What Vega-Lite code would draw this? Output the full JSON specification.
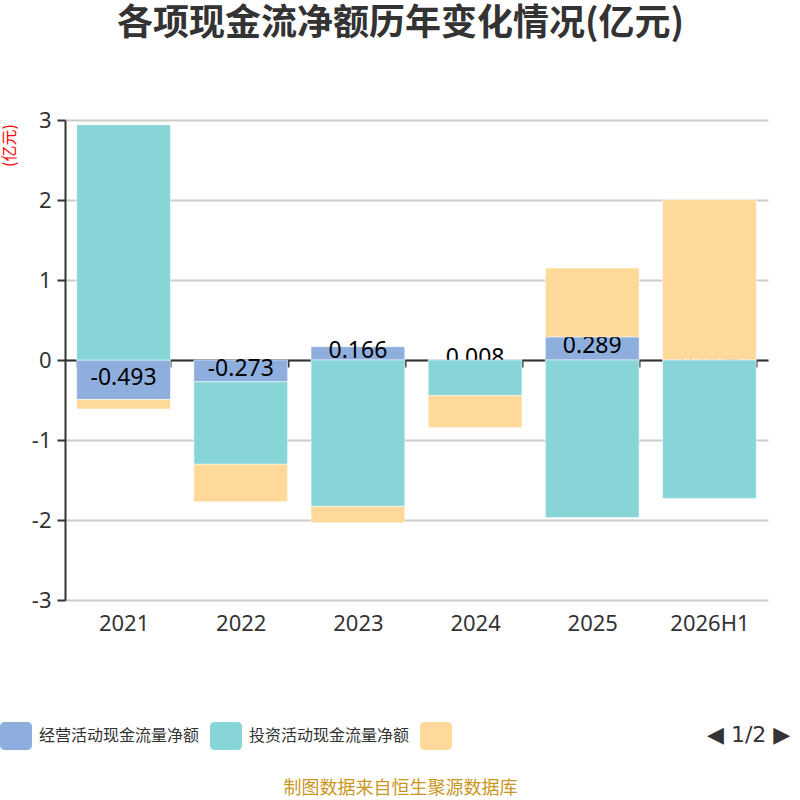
{
  "$schema": "https://vega.github.io/schema/vega-lite/v6.json",
  "width": 703,
  "height": 480,
  "autosize": {"type": "none"},
  "padding": {"left": 65, "top": 120, "right": 32, "bottom": 200},
  "background": "white",
  "title": {
    "text": "各项现金流净额历年变化情况(亿元)",
    "font": "Noto Sans CJK SC",
    "fontSize": 36,
    "fontWeight": "bold",
    "color": "#333333",
    "anchor": "middle",
    "frame": "group",
    "dx": -16,
    "offset": 38,
    "baseline": "alphabetic"
  },
  "config": {
    "view": {"stroke": null},
    "font": "Noto Sans CJK SC"
  },
  "data": {
    "values": [
      {"year": "2021", "series": "经营活动现金流量净额", "idx": 1, "value": -0.493},
      {"year": "2021", "series": "投资活动现金流量净额", "idx": 2, "value": 2.94},
      {"year": "2021", "series": "筹资活动现金流量净额", "idx": 3, "value": -0.12},
      {"year": "2022", "series": "经营活动现金流量净额", "idx": 1, "value": -0.273},
      {"year": "2022", "series": "投资活动现金流量净额", "idx": 2, "value": -1.03},
      {"year": "2022", "series": "筹资活动现金流量净额", "idx": 3, "value": -0.47},
      {"year": "2023", "series": "经营活动现金流量净额", "idx": 1, "value": 0.166},
      {"year": "2023", "series": "投资活动现金流量净额", "idx": 2, "value": -1.83},
      {"year": "2023", "series": "筹资活动现金流量净额", "idx": 3, "value": -0.205},
      {"year": "2024", "series": "经营活动现金流量净额", "idx": 1, "value": 0.008},
      {"year": "2024", "series": "投资活动现金流量净额", "idx": 2, "value": -0.445},
      {"year": "2024", "series": "筹资活动现金流量净额", "idx": 3, "value": -0.4},
      {"year": "2025", "series": "经营活动现金流量净额", "idx": 1, "value": 0.289},
      {"year": "2025", "series": "投资活动现金流量净额", "idx": 2, "value": -1.97},
      {"year": "2025", "series": "筹资活动现金流量净额", "idx": 3, "value": 0.86},
      {"year": "2026H1", "series": "经营活动现金流量净额", "idx": 1, "value": 0.004},
      {"year": "2026H1", "series": "投资活动现金流量净额", "idx": 2, "value": -1.73},
      {"year": "2026H1", "series": "筹资活动现金流量净额", "idx": 3, "value": 2.0}
    ]
  },
  "transform": [
    {"stack": "value", "groupby": ["year"], "sort": [{"field": "idx", "order": "ascending"}], "as": ["v0", "v1"]}
  ],
  "encoding": {
    "x": {
      "field": "year",
      "type": "nominal",
      "sort": null,
      "scale": {"paddingInner": 0.2, "paddingOuter": 0.1},
      "axis": {
        "offset": -240,
        "zindex": 0,
        "labelAngle": 0,
        "labelFontSize": 22,
        "labelColor": "#333333",
        "labelFont": "Noto Sans",
        "labelPadding": 246,
        "domainColor": "#333333",
        "domainWidth": 2,
        "tickBand": "extent",
        "tickColor": "#333333",
        "tickWidth": 2,
        "tickSize": 7,
        "grid": false,
        "title": "制图数据来自恒生聚源数据库",
        "titleColor": "#C9961F",
        "titleFontSize": 18,
        "titleFontWeight": "normal",
        "titleFont": "Noto Sans CJK SC",
        "titleX": 335,
        "titleY": 428,
        "titleAlign": "center",
        "titleBaseline": "middle"
      }
    }
  },
  "layer": [
    {
      "transform": [{"filter": "datum.series === '经营活动现金流量净额'"}],
      "mark": {"type": "bar", "stroke": "#ffffff", "strokeOpacity": 0.5, "strokeWidth": 1},
      "encoding": {
        "y": {
          "field": "v0",
          "type": "quantitative",
          "scale": {"domain": [-3, 3], "nice": false, "zero": false},
          "axis": {
            "values": [-3, -2, -1, 0, 1, 2, 3],
            "labelExpr": "'' + datum.value",
            "grid": true,
            "gridColor": "#cccccc",
            "gridWidth": 2,
            "domainColor": "#333333",
            "domainWidth": 2,
            "tickColor": "#333333",
            "tickWidth": 2,
            "tickSize": 8,
            "labelFontSize": 22,
            "labelFont": "Noto Sans",
            "labelColor": "#333333",
            "labelPadding": 6,
            "title": "(亿元)",
            "titleColor": "#ff0000",
            "titleFontSize": 16,
            "titleFontWeight": "normal",
            "titleFont": "Noto Sans CJK SC",
            "titleX": -56,
            "titleY": 25,
            "titleAngle": -90,
            "titleAlign": "center",
            "titleBaseline": "middle"
          }
        },
        "y2": {"field": "v1"},
        "color": {
          "field": "series",
          "type": "nominal",
          "scale": {
            "domain": ["经营活动现金流量净额", "投资活动现金流量净额", "筹资活动现金流量净额"],
            "range": ["#8EAFDD", "#88D5D8", "#FED99A"]
          },
          "legend": {
            "orient": "none",
            "legendX": -65,
            "legendY": 600,
            "direction": "horizontal",
            "columnPadding": 10,
            "labelOffset": 7,
            "labelFontSize": 16,
            "labelLimit": 400,
            "labelFont": "Noto Sans CJK SC",
            "labelColor": "#333333",
            "labelExpr": "datum.label === '筹资活动现金流量净额' ? '' : datum.label",
            "symbolType": "M-0.6875,-0.875L0.6875,-0.875Q1,-0.875 1,-0.5625L1,0.5625Q1,0.875 0.6875,0.875L-0.6875,0.875Q-1,0.875 -1,0.5625L-1,-0.5625Q-1,-0.875 -0.6875,-0.875Z",
            "symbolSize": 1024,
            "symbolStrokeWidth": 0,
            "symbolOpacity": 1,
            "title": "◀ 1/2 ▶",
            "titleOrient": "right",
            "titleFontSize": 22,
            "titleFontWeight": "normal",
            "titleFont": "DejaVu Sans",
            "titleColor": "#333333",
            "titlePadding": 248,
            "titleBaseline": "middle"
          }
        }
      }
    },
    {
      "transform": [{"filter": "datum.series === '经营活动现金流量净额'"}],
      "mark": {"type": "text", "fontSize": 23, "font": "Noto Sans", "color": "#000000", "baseline": "middle", "dy": -2},
      "encoding": {
        "y": {
          "field": "value",
          "type": "quantitative",
          "scale": {"domain": [-6, 6], "nice": false, "zero": false},
          "axis": null
        },
        "text": {"field": "value", "type": "nominal"}
      }
    },
    {
      "transform": [{"filter": "datum.series !== '经营活动现金流量净额'"}],
      "mark": {"type": "bar", "stroke": "#ffffff", "strokeOpacity": 0.5, "strokeWidth": 1},
      "encoding": {
        "y": {
          "field": "v0",
          "type": "quantitative",
          "scale": {"domain": [-3, 3], "nice": false, "zero": false},
          "axis": null
        },
        "y2": {"field": "v1"},
        "color": {"field": "series", "type": "nominal"}
      }
    }
  ],
  "resolve": {"scale": {"y": "independent"}}
}
